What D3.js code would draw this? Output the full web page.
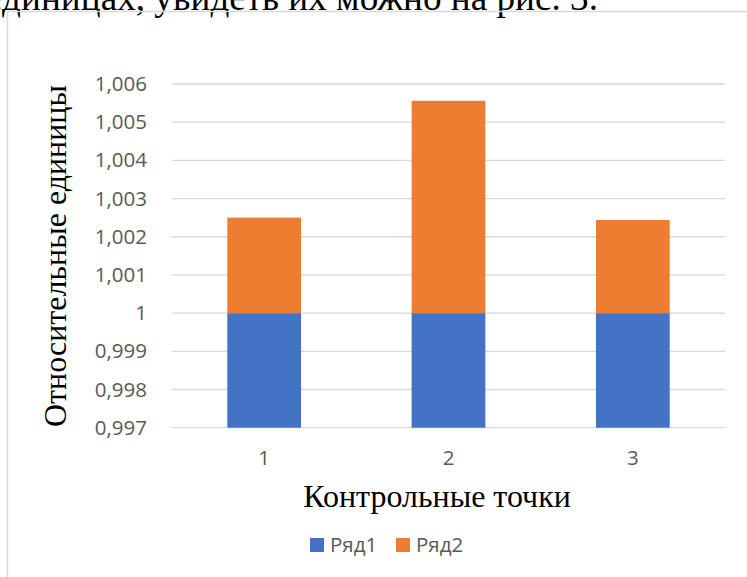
<!DOCTYPE html>
<html>
<head>
<meta charset="utf-8">
<script src="https://cdn.jsdelivr.net/npm/d3@7"></script>
<style>
  html, body { margin: 0; padding: 0; background: #fff; }
  svg { display: block; }
</style>
</head>
<body>
<script>
// Chart data
const categories = ["1", "2", "3"];
const seriesNames = ["Ряд1", "Ряд2"];
const row1 = [1, 1, 1];
const row2 = [0.0025, 0.00556, 0.00244];
const yTicks = [0.997, 0.998, 0.999, 1, 1.001, 1.002, 1.003, 1.004, 1.005, 1.006];
const colors = ["#4472C4", "#ED7D31"];

const W = 747, H = 577;
const plot = { left: 172, right: 725, top: 84, bottom: 427.7 };
const serif = "'Liberation Serif', 'Times New Roman', serif";
const sans = "'Open Sans', 'Noto Sans', sans-serif";

const svg = d3.select("body").append("svg").attr("width", W).attr("height", H);

// Caption line of the surrounding document, cut off at the top
svg.append("text")
  .attr("x", 598).attr("y", 9.5)
  .attr("text-anchor", "end")
  .attr("font-family", serif)
  .attr("font-size", 37.2)
  .attr("fill", "#000")
  .text("единицах, увидеть их можно на рис. 3.");

// Chart frame
svg.append("path")
  .attr("d", `M7.5,${H} V11.5 H${W}`)
  .attr("fill", "none")
  .attr("stroke", "#d9d9d9")
  .attr("stroke-width", 1.5);

const x = d3.scaleBand().domain(categories).range([plot.left, plot.right]).paddingInner(0.6).paddingOuter(0.3);
const y = d3.scaleLinear().domain([0.997, 1.006]).range([plot.bottom, plot.top]);

// Gridlines
svg.append("g").selectAll("line").data(yTicks).join("line")
  .attr("x1", plot.left).attr("x2", plot.right)
  .attr("y1", d => y(d)).attr("y2", d => y(d))
  .attr("stroke", "#d9d9d9").attr("stroke-width", 1.3);

// Stacked columns
const table = categories.map((c, i) => ({ cat: c, "Ряд1": row1[i], "Ряд2": row2[i] }));
const stacked = d3.stack().keys(seriesNames)(table);
const clampY = v => Math.min(plot.bottom, Math.max(plot.top, y(v)));

svg.append("g").selectAll("g").data(stacked).join("g")
  .attr("fill", (d, i) => colors[i])
  .selectAll("rect").data(d => d).join("rect")
  .attr("x", d => x(d.data.cat))
  .attr("width", x.bandwidth())
  .attr("y", d => clampY(d[1]))
  .attr("height", d => clampY(d[0]) - clampY(d[1]));

// Y axis labels
const yAxis = d3.axisLeft(y).tickValues(yTicks).tickSize(0).tickPadding(0)
  .tickFormat(d => d3.format(",")(d).replace(".", ","));
const yg = svg.append("g").attr("transform", `translate(147,0)`).call(yAxis);
yg.select(".domain").remove();
yg.selectAll("text")
  .attr("font-family", sans)
  .attr("font-size", 20.5)
  .attr("fill", "#595959");

// X axis labels
const xAxis = d3.axisBottom(x).tickSize(0).tickPadding(0);
const xg = svg.append("g").attr("transform", `translate(0,${plot.bottom + 23})`).call(xAxis);
xg.select(".domain").remove();
xg.selectAll("text")
  .attr("font-family", sans)
  .attr("font-size", 20.5)
  .attr("fill", "#595959");

// Axis titles
svg.append("text")
  .attr("transform", `translate(66,256) rotate(-90)`)
  .attr("text-anchor", "middle")
  .attr("font-family", serif)
  .attr("font-size", 32)
  .attr("fill", "#000")
  .text("Относительные единицы");

svg.append("text")
  .attr("x", 437).attr("y", 507)
  .attr("text-anchor", "middle")
  .attr("font-family", serif)
  .attr("font-size", 32)
  .attr("fill", "#000")
  .text("Контрольные точки");

// Legend
const legend = svg.append("g");
const legendX = [310, 396];
seriesNames.forEach((name, i) => {
  legend.append("rect")
    .attr("x", legendX[i]).attr("y", 538).attr("width", 14).attr("height", 14)
    .attr("fill", colors[i]);
  legend.append("text")
    .attr("x", legendX[i] + 20).attr("y", 551.5)
    .attr("font-family", sans)
    .attr("font-size", 20.5)
    .attr("fill", "#595959")
    .text(name);
});
</script>
</body>
</html>
